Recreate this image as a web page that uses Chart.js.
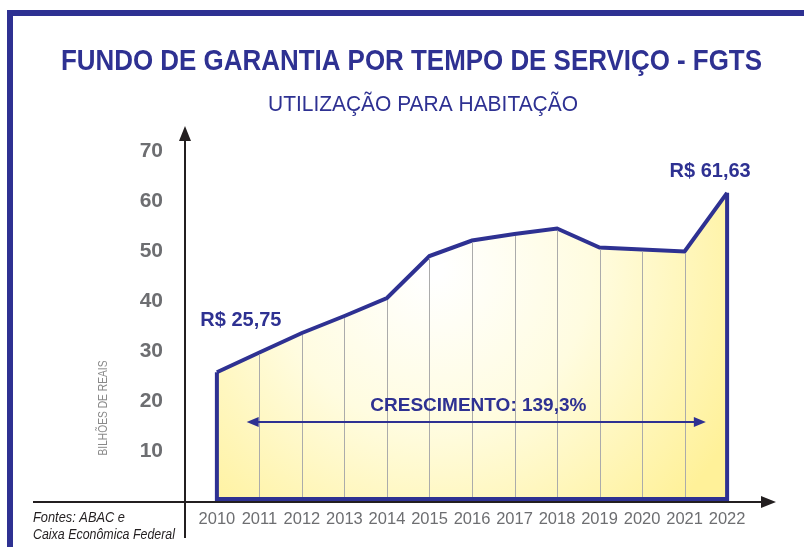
<!DOCTYPE html>
<html>
<head>
<meta charset="utf-8">
<script src="https://cdn.jsdelivr.net/npm/chart.js@4.4.0/dist/chart.umd.min.js"></script>
<style>
  html, body { margin: 0; padding: 0; background: #fff; }
</style>
</head>
<body>
<canvas id="chart" width="804" height="547"></canvas>
<script>
// data (billions of reais)
const years = [2010, 2011, 2012, 2013, 2014, 2015, 2016, 2017, 2018, 2019, 2020, 2021, 2022];
const values = [25.75, 29.7, 33.6, 37.0, 40.6, 49.0, 52.1, 53.4, 54.5, 50.7, 50.3, 49.9, 61.63];
const yTicks = [10, 20, 30, 40, 50, 60, 70];

const titleText = "FUNDO DE GARANTIA POR TEMPO DE SERVIÇO - FGTS";
const subtitleText = "UTILIZAÇÃO PARA HABITAÇÃO";
const yTitle = "BILHÕES DE REAIS";
const firstLabel = "R$ 25,75";
const lastLabel = "R$ 61,63";
const growthText = "CRESCIMENTO: 139,3%";
const sources = ["Fontes: ABAC e", "Caixa Econômica Federal"];

const BLUE = "#2E3192";
const GREY = "#6D6E71";
const SANS = '"Liberation Sans", Arial, sans-serif';

// the original uses a condensed face, so squeeze text horizontally to a width
function squeezed(c, text, x, y, width, align) {
    const w = c.measureText(text).width;
    const k = Math.min(1, width / w);
    c.save();
    c.translate(x, y);
    c.scale(k, 1);
    c.textAlign = align;
    c.fillText(text, 0, 0);
    c.restore();
}

// frame, drop lines, outline, axes and texts
const decor = {
    id: "decor",
    beforeDraw(chart) {
        const c = chart.ctx;
        c.save();
        c.fillStyle = "#fff";
        c.fillRect(0, 0, chart.width, chart.height);
        c.fillStyle = BLUE;
        c.fillRect(7, 10, chart.width - 7, 6);
        c.fillRect(7, 10, 6, chart.height - 10);
        c.restore();
    },
    afterDatasetsDraw(chart) {
        const c = chart.ctx;
        const ca = chart.chartArea;
        const ys = chart.scales.y, xs = chart.scales.x;
        const pts = chart.getDatasetMeta(0).data;
        const base = ys.getPixelForValue(0);
        const first = pts[0], last = pts[pts.length - 1];
        c.save();

        // grey drop lines
        c.strokeStyle = "#ABABAB";
        c.lineWidth = 1;
        for (let i = 1; i < pts.length - 1; i++) {
            const x = Math.round(pts[i].x) + 0.5;
            c.beginPath();
            c.moveTo(x, pts[i].y + 2);
            c.lineTo(x, base - 3);
            c.stroke();
        }

        // blue outline of the sides and bottom
        c.strokeStyle = BLUE;
        c.lineWidth = 4;
        c.lineJoin = "miter";
        c.beginPath();
        c.moveTo(first.x, first.y);
        c.lineTo(first.x, base - 2);
        c.lineTo(last.x, base - 2);
        c.lineTo(last.x, last.y);
        c.stroke();

        // axes with arrows
        const ax = ca.left, ay = base + 1;
        c.strokeStyle = "#231F20";
        c.fillStyle = "#231F20";
        c.lineWidth = 2;
        c.beginPath();
        c.moveTo(ax, 538);
        c.lineTo(ax, ca.top + 12);
        c.moveTo(33, ay);
        c.lineTo(ca.right - 12, ay);
        c.stroke();
        c.beginPath();
        c.moveTo(ax, ca.top);
        c.lineTo(ax - 6, ca.top + 15);
        c.lineTo(ax + 6, ca.top + 15);
        c.closePath();
        c.moveTo(ca.right, ay);
        c.lineTo(ca.right - 15, ay - 6);
        c.lineTo(ca.right - 15, ay + 6);
        c.closePath();
        c.fill();

        // growth arrow
        const gy = ys.getPixelForValue(15.8);
        const gx1 = xs.getPixelForValue(2010.7), gx2 = xs.getPixelForValue(2021.5);
        c.strokeStyle = BLUE;
        c.fillStyle = BLUE;
        c.lineWidth = 2;
        c.beginPath();
        c.moveTo(gx1 + 8, gy);
        c.lineTo(gx2 - 8, gy);
        c.stroke();
        c.beginPath();
        c.moveTo(gx1, gy);
        c.lineTo(gx1 + 12, gy - 5);
        c.lineTo(gx1 + 12, gy + 5);
        c.closePath();
        c.moveTo(gx2, gy);
        c.lineTo(gx2 - 12, gy - 5);
        c.lineTo(gx2 - 12, gy + 5);
        c.closePath();
        c.fill();

        // texts
        c.textBaseline = "alphabetic";
        c.fillStyle = BLUE;
        c.font = "bold 30px " + SANS;
        squeezed(c, titleText, 411.5, 70, 701, "center");
        c.font = "22px " + SANS;
        squeezed(c, subtitleText, 423, 111, 310, "center");

        c.font = "bold 20px " + SANS;
        c.textAlign = "center";
        c.fillText(firstLabel, first.x + 24, first.y - 46);
        c.fillText(lastLabel, last.x - 17, last.y - 16);
        c.font = "bold 19px " + SANS;
        c.fillText(growthText, xs.getPixelForValue(2016.15), ys.getPixelForValue(18));

        c.fillStyle = "#231F20";
        c.font = "italic 14px " + SANS;
        squeezed(c, sources[0], 33, 522, 92, "left");
        squeezed(c, sources[1], 33, 539, 142, "left");

        c.translate(107, 408);
        c.rotate(-Math.PI / 2);
        c.fillStyle = "#8A8A8A";
        c.font = "12px " + SANS;
        squeezed(c, yTitle, 0, 0, 95, "center");
        c.restore();
    }
};

const ctx = document.getElementById("chart");
new Chart(ctx, {
    type: "line",
    data: {
        datasets: [{
            data: years.map((y, i) => ({ x: y, y: values[i] })),
            borderColor: BLUE,
            borderWidth: 4,
            borderJoinStyle: "miter",
            pointRadius: 0,
            tension: 0,
            fill: "origin",
            backgroundColor: function (context) {
                const ca = context.chart.chartArea;
                if (!ca) return "#FFF6B0";
                const cx = ca.left + (ca.right - ca.left) * 0.42;
                const cy = ca.top + (ca.bottom - ca.top) * 0.38;
                const g = context.chart.ctx.createRadialGradient(cx, cy, 10, cx, cy, 340);
                g.addColorStop(0, "#FFFFFF");
                g.addColorStop(0.45, "#FFFCE0");
                g.addColorStop(1, "#FFF199");
                return g;
            }
        }]
    },
    options: {
        responsive: false,
        animation: false,
        layout: { padding: { top: 126, right: 28, left: 0, bottom: 0 } },
        plugins: {
            legend: { display: false },
            tooltip: { enabled: false }
        },
        scales: {
            x: {
                type: "linear",
                min: 2009.25,
                max: 2023.15,
                grid: { display: false, drawTicks: false },
                border: { display: false },
                afterBuildTicks: (s) => { s.ticks = years.map(v => ({ value: v })); },
                afterFit: (s) => { s.height = 46; },
                ticks: {
                    autoSkip: false,
                    maxRotation: 0,
                    padding: 9,
                    color: GREY,
                    font: { family: SANS, size: 16.5 },
                    callback: (v) => String(v)
                }
            },
            y: {
                min: 0,
                max: 75,
                grid: { display: false, drawTicks: false },
                border: { display: false },
                afterBuildTicks: (s) => { s.ticks = yTicks.map(v => ({ value: v })); },
                afterFit: (s) => { s.width = 185; },
                ticks: {
                    padding: 22,
                    color: GREY,
                    font: { family: SANS, size: 21, weight: "bold" }
                }
            }
        }
    },
    plugins: [decor]
});
</script>
</body>
</html>
